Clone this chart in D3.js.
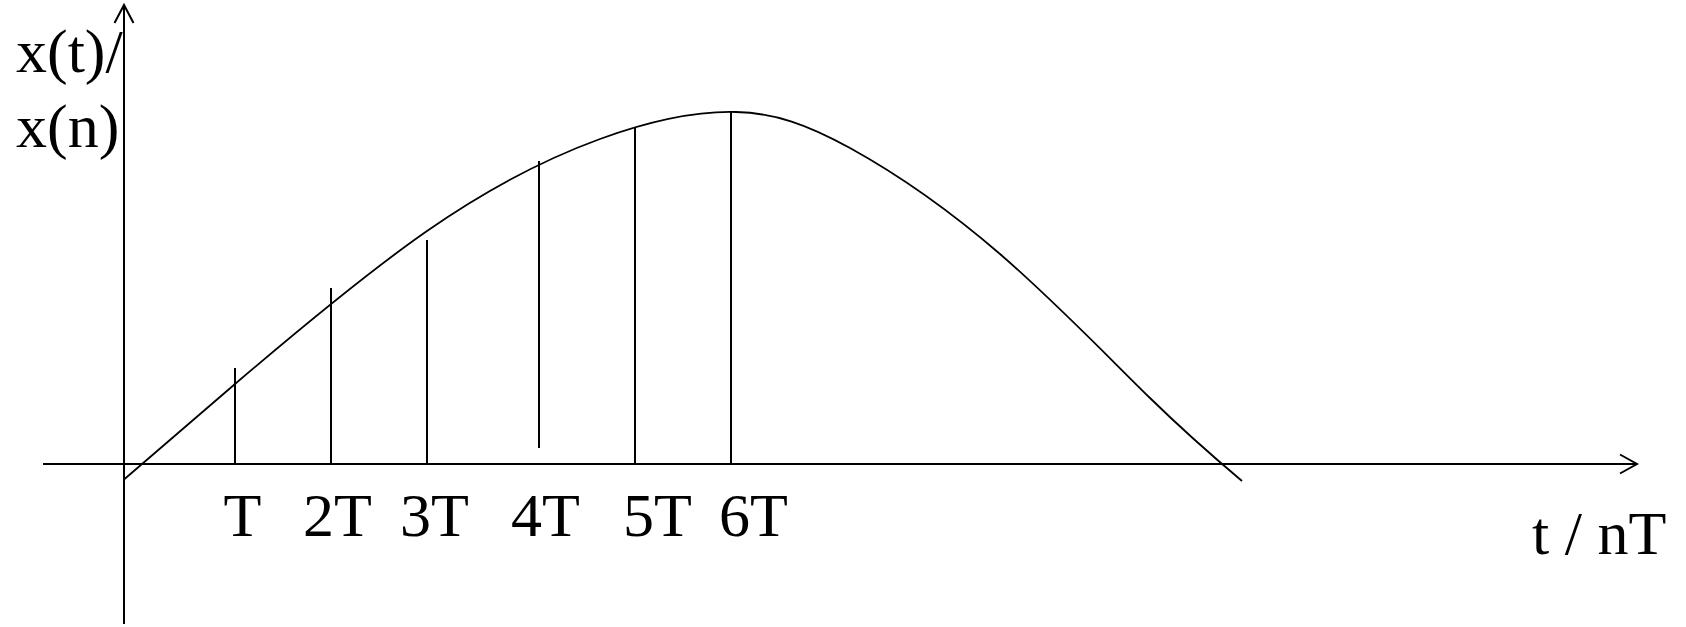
<!DOCTYPE html>
<html>
<head>
<meta charset="utf-8">
<script src="https://cdn.jsdelivr.net/npm/d3@7"></script>
<style>
  html, body { margin: 0; padding: 0; background: #fff; }
  svg { display: block; }
  text { font-family: "Liberation Serif", "Times New Roman", serif; fill: #000; }
</style>
</head>
<body>
<div id="chart"></div>
<script>
// continuous signal x(t) (t in units of ~100px, value up)
var curveT = [0, 1.11, 3.03, 4.76, 6.12, 7.26, 8.76, 10.26, 11.18];
var curveV = [-0.155, 0.80, 2.33, 3.25, 3.52, 3.16, 2.10, 0.66, -0.17];

// samples x(n)
var sampleT = [1.11, 2.07, 3.03, 4.15, 5.11, 6.07];
var sampleTop = [0.96, 1.76, 2.24, 3.03, 3.36, 3.52];
var sampleBase = [0, 0, 0, 0.16, 0, 0];

// tick labels under the time axis
var tickLabels = ["T", "2T", "3T", "4T", "5T", "6T"];
var tickPos = [1.18, 2.13, 3.10, 4.21, 5.33, 6.29];

var width = 1686, height = 627;

var x = d3.scaleLinear()
    .domain([-0.81, 15.13])
    .range([43, 1637]);
var y = d3.scaleLinear()
    .domain([-1.6, 4.59])
    .range([624, 5]);

const svg = d3.select("#chart").append("svg")
    .attr("width", width)
    .attr("height", height);

// tick labels via a bottom axis with no tick marks
svg.append("g")
    .attr("transform", "translate(0," + y(0) + ")")
    .call(d3.axisBottom(x)
        .tickValues(tickPos)
        .tickFormat(function (d, i) { return tickLabels[i]; })
        .tickSize(0)
        .tickPadding(27.5))
    .call(g => g.select(".domain").remove())
    .call(g => g.selectAll("text")
        .attr("fill", "#000")
        .style("font-family", "'Liberation Serif', serif")
        .style("font-size", "62px"));

// axes with open arrowheads
var axes = svg.append("g")
    .attr("stroke", "#000")
    .attr("stroke-width", 2)
    .attr("fill", "none");

axes.append("line")
    .attr("x1", x(-0.81)).attr("x2", x(15.13))
    .attr("y1", y(0)).attr("y2", y(0));
axes.append("path")
    .attr("d", "M" + (x(15.13) - 17) + "," + (y(0) - 9.5) + "L" + x(15.13) + "," + y(0) + "L" + (x(15.13) - 17) + "," + (y(0) + 9.5));

axes.append("line")
    .attr("x1", x(0)).attr("x2", x(0))
    .attr("y1", y(-1.6)).attr("y2", y(4.59));
axes.append("path")
    .attr("d", "M" + (x(0) - 9.5) + "," + (y(4.59) + 18) + "L" + x(0) + "," + y(4.59) + "L" + (x(0) + 9.5) + "," + (y(4.59) + 18));

// sample stems
svg.append("g")
    .attr("stroke", "#000")
    .attr("stroke-width", 2)
    .selectAll("line")
    .data(sampleT)
    .join("line")
    .attr("x1", d => x(d))
    .attr("x2", d => x(d))
    .attr("y1", (d, i) => y(sampleBase[i]))
    .attr("y2", (d, i) => y(sampleTop[i]));

// the continuous curve
var line = d3.line()
    .x(d => x(d[0]))
    .y(d => y(d[1]))
    .curve(d3.curveNatural);

svg.append("path")
    .datum(curveT.map((t, i) => [t, curveV[i]]))
    .attr("fill", "none")
    .attr("stroke", "#000")
    .attr("stroke-width", 1.8)
    .attr("d", line);

// axis titles
svg.append("text")
    .attr("x", 16).attr("y", 72)
    .style("font-size", "62px")
    .text("x(t)/");
svg.append("text")
    .attr("x", 16).attr("y", 147)
    .style("font-size", "62px")
    .text("x(n)");
svg.append("text")
    .attr("x", 1532).attr("y", 554)
    .style("font-size", "62px")
    .text("t / nT");
</script>
</body>
</html>
